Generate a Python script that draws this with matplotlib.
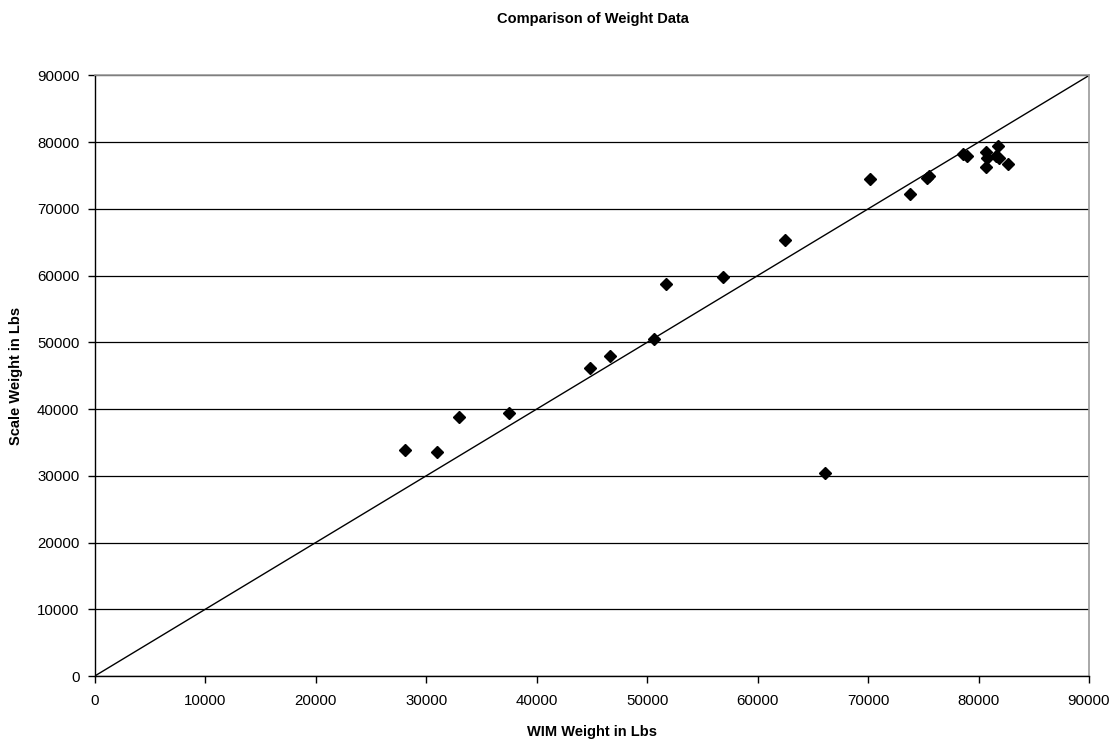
import matplotlib
matplotlib.use("Agg")
import matplotlib.pyplot as plt

wim_weight = [28070, 31020, 32960, 37480, 44850, 46660, 50650, 51700, 56900,
              62500, 66120, 70200, 73820, 75380, 75540, 78640, 78950, 80670,
              80760, 80670, 81760, 81580, 81880, 82660]
scale_weight = [33900, 33600, 38800, 39400, 46200, 48000, 50550, 58700, 59800,
                65300, 30500, 74500, 72250, 74650, 74900, 78300, 77900, 78550,
                77650, 76300, 79400, 77900, 77650, 76750]
ref_line = [0, 90000]

plt.rcParams['font.family'] = ['Liberation Sans', 'DejaVu Sans']

fig = plt.figure(figsize=(11.2, 7.46), dpi=100)
ax = fig.add_axes([0.0846, 0.0938, 0.9723 - 0.0846, 0.8988 - 0.0938])

ax.plot(ref_line, ref_line, color='black', lw=1.0, zorder=2)
ax.plot(wim_weight, scale_weight, linestyle='none', marker='D', ms=5.8,
        color='black', zorder=3)

ax.set_xlim(0, 90000)
ax.set_ylim(0, 90000)
ax.set_xticks(range(0, 90001, 10000))
ax.set_yticks(range(0, 90001, 10000))
ax.yaxis.grid(True, color='black', lw=0.9)
ax.set_axisbelow(True)

for s in ['top', 'right']:
    ax.spines[s].set_color('#999999')
    ax.spines[s].set_linewidth(1.2)
for s in ['left', 'bottom']:
    ax.spines[s].set_color('black')
    ax.spines[s].set_linewidth(1.0)

ax.tick_params(axis='x', direction='out', length=5, width=1, labelsize=10.8,
               colors='black', pad=8)
ax.tick_params(axis='y', direction='out', length=5, width=1, labelsize=10.8,
               colors='black', pad=6)

ax.set_xlabel('WIM Weight in Lbs', fontsize=10.5, fontweight='bold', labelpad=12)
ax.set_ylabel('Scale Weight in Lbs', fontsize=10.5, fontweight='bold', labelpad=10)
fig.text(0.529, 0.974, 'Comparison of Weight Data', ha='center', va='center',
         fontsize=10.5, fontweight='bold')

fig.savefig('out.png', dpi=100)
